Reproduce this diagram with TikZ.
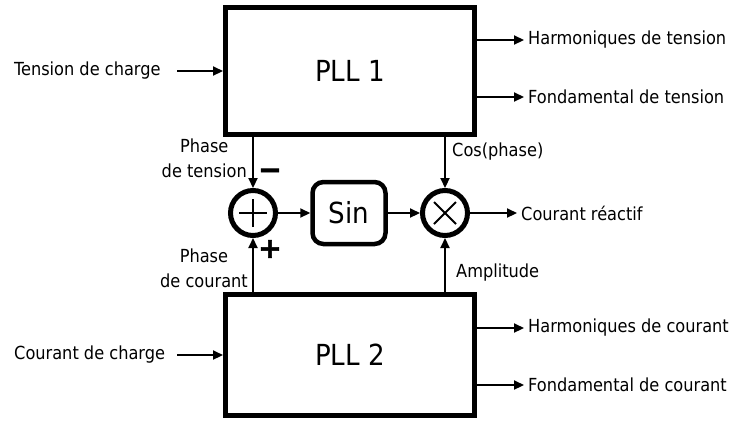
\documentclass[tikz,border=0pt]{standalone}
\usepackage{fontspec}
\setmainfont{DejaVu Sans Condensed}
\newfontfamily\signfont[FakeBold=2.5]{DejaVu Sans Bold}
\usetikzlibrary{arrows.meta}
\begin{document}
\begin{tikzpicture}[x=1pt,y=-1pt,
  lbl/.style={font=\fontsize{18}{25}\selectfont, inner sep=0pt},
  big/.style={font=\fontsize{29}{34}\selectfont},
  pllbox/.style={draw, line width=5pt, minimum width=249pt},
  op/.style={draw, circle, line width=5pt, minimum size=45pt, inner sep=0pt},
  arr/.style={line width=2.2pt, -{Triangle[length=10pt,width=9pt]}},
  sign/.style={font=\signfont\fontsize{28}{28}\selectfont, inner sep=0pt}]
\useasboundingbox (0,0) rectangle (731,421);
\node[pllbox, minimum height=127pt, big] (pll1) at (350,71) {PLL 1};
\node[pllbox, minimum height=121pt, big] (pll2) at (350,355) {PLL 2};
\node[op] (sum) at (253,213) {};
\node[op] (mult) at (445,213) {};
\node[draw, line width=4.5pt, rounded corners=11pt, minimum width=73pt, minimum height=62pt, big] (sin) at (349,213) {Sin};
% plus inside sum
\draw[line width=2pt] ([xshift=-14pt]sum.center) -- ([xshift=14pt]sum.center);
\draw[line width=2pt] ([yshift=-14pt]sum.center) -- ([yshift=14pt]sum.center);
% cross inside mult
\draw[line width=2pt] ([shift={(-11pt,-11pt)}]mult.center) -- ([shift={(11pt,11pt)}]mult.center);
\draw[line width=2pt] ([shift={(-11pt,11pt)}]mult.center) -- ([shift={(11pt,-11pt)}]mult.center);
% vertical connectors
\draw[arr] (sum |- pll1.south) -- (sum.north);
\draw[arr] (mult |- pll1.south) -- (mult.north);
\draw[arr] (sum |- pll2.north) -- (sum.south);
\draw[arr] (mult |- pll2.north) -- (mult.south);
\draw[arr] (sum.east) -- (sin.west);
\draw[arr] (sin.east) -- (mult.west);
\coordinate (out) at (517,213);
\draw[arr] (mult.east) -- (out);
\node[lbl, anchor=west] (reac) at (521,213) {Courant réactif};
% signs
\node[sign] (minus) at (270,174) {−};
\node[sign] (plus) at (270,249) {+};
% labels
\node[lbl, align=center, anchor=east] (phv) at (247,158) {Phase\\de tension};
\node[lbl, align=center, anchor=east] (phc) at (248,268) {Phase\\de courant};
\node[lbl, anchor=west] (cos) at (452,152) {Cos(phase)};
\node[lbl, anchor=west] (amp) at (456,273) {Amplitude};
% inputs
\node[lbl, anchor=west] (tc) at (14,71) {Tension de charge};
\coordinate (in1) at (177,71);
\draw[arr] (in1) -- (pll1.west |- in1);
\node[lbl, anchor=west] (cc) at (14,355) {Courant de charge};
\coordinate (in2) at (177,355);
\draw[arr] (in2) -- (pll2.west |- in2);
% outputs
\coordinate (o1) at (524,40);
\coordinate (o2) at (524,97);
\coordinate (o3) at (524,328);
\coordinate (o4) at (524,385);
\draw[arr] (pll1.east |- o1) -- (o1);
\draw[arr] (pll1.east |- o2) -- (o2);
\draw[arr] (pll2.east |- o3) -- (o3);
\draw[arr] (pll2.east |- o4) -- (o4);
\node[lbl, anchor=west] (h1) at (528,40) {Harmoniques de tension};
\node[lbl, anchor=west] (f1) at (528,97) {Fondamental de tension};
\node[lbl, anchor=west] (h2) at (528,328) {Harmoniques de courant};
\node[lbl, anchor=west] (f2) at (528,385) {Fondamental de courant};
\end{tikzpicture}
\end{document}
